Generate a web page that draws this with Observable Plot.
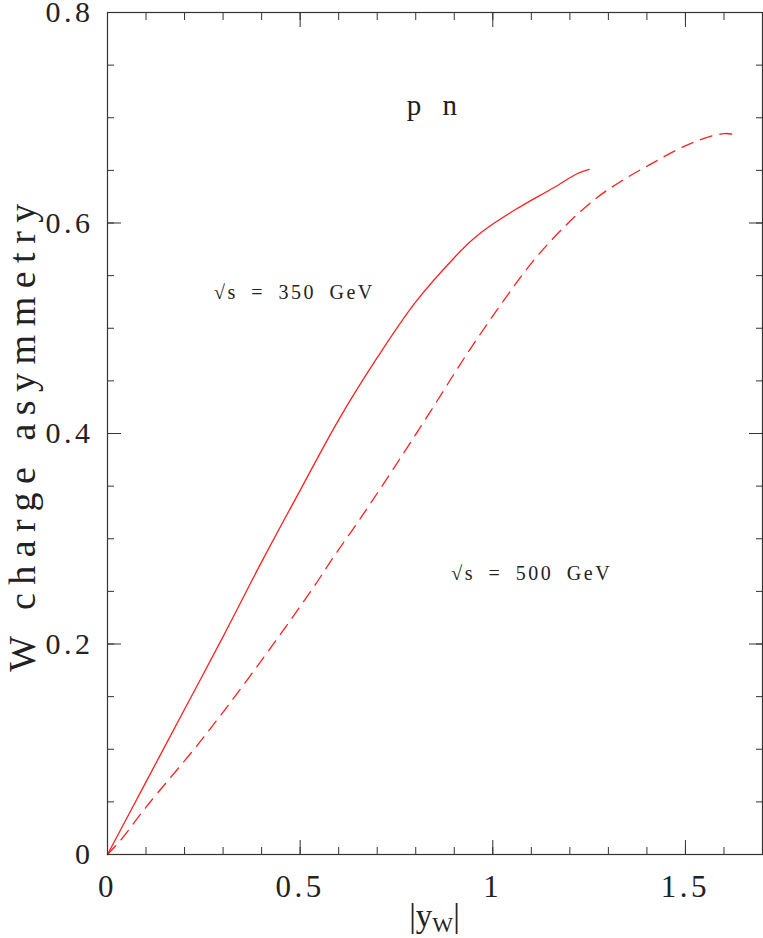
<!DOCTYPE html>
<html><head><meta charset="utf-8">
<script src="https://cdn.jsdelivr.net/npm/d3@7"></script>
<script src="https://cdn.jsdelivr.net/npm/@observablehq/plot@0.6"></script>
<style>
html,body{margin:0;padding:0;background:#fff}
svg{display:block}
</style>
</head><body><div id="chart"></div>
<script>
// sqrt(s) = 350 GeV (solid)
const x350 = [0, 0.1, 0.2, 0.3, 0.4, 0.5, 0.6, 0.7, 0.8, 0.9, 0.95, 1.0, 1.06, 1.16, 1.22, 1.25];
const y350 = [0, 0.069, 0.138, 0.207, 0.278, 0.346, 0.413, 0.472, 0.525, 0.567, 0.585, 0.599, 0.613, 0.634, 0.647, 0.651];
// sqrt(s) = 500 GeV (dashed)
const x500 = [0, 0.035, 0.1, 0.24, 0.375, 0.535, 0.58, 0.665, 0.75, 0.84, 0.93, 1.02, 1.105, 1.19, 1.27, 1.33, 1.41, 1.51, 1.6, 1.64];
const y500 = [0, 0.014, 0.045, 0.107, 0.172, 0.254, 0.279, 0.324, 0.371, 0.422, 0.474, 0.522, 0.564, 0.598, 0.624, 0.639, 0.656, 0.675, 0.685, 0.683];

const xMajorTicks = [0, 0.5, 1, 1.5];
const xTickLabels = ["0", "0.5", "1", "1.5"];
const xMinorTicks = [0, 0.1, 0.2, 0.3, 0.4, 0.5, 0.6, 0.7, 0.8, 0.9, 1, 1.1, 1.2, 1.3, 1.4, 1.5, 1.6, 1.7];
const yMajorTicks = [0, 0.2, 0.4, 0.6, 0.8];
const yTickLabels = ["0", "0.2", "0.4", "0.6", "0.8"];
const yMinorTicks = [0, 0.05, 0.1, 0.15, 0.2, 0.25, 0.3, 0.35, 0.4, 0.45, 0.5, 0.55, 0.6, 0.65, 0.7, 0.75, 0.8];

const titleText = ["p n"];
const titleX = [0.851];
const titleY = [0.711];
const energyText = ["√s = 350 GeV", "√s = 500 GeV"];
const energyX = [0.485, 1.101];
const energyY = [0.534, 0.267];

const s350 = x350.map((x, i) => ({x, y: y350[i]}));
const s500 = x500.map((x, i) => ({x, y: y500[i]}));
const titles = titleText.map((t, i) => ({t, x: titleX[i], y: titleY[i]}));
const energies = energyText.map((t, i) => ({t, x: energyX[i], y: energyY[i]}));
const xFmt = new Map(xMajorTicks.map((v, i) => [v, xTickLabels[i]]));
const yFmt = new Map(yMajorTicks.map((v, i) => [v, yTickLabels[i]]));

const ink = "#333";
const red = "#ff2020";
const font = "'Liberation Serif', 'Times New Roman', serif";

const plot = Plot.plot({
  width: 763, height: 938,
  marginLeft: 107, marginRight: 1, marginTop: 12, marginBottom: 84,
  x: {domain: [0, 1.7]},
  y: {domain: [0, 0.8]},
  style: {fontFamily: font, background: "#fff", color: ink},
  marks: [
    Plot.line(s350, {x: "x", y: "y", stroke: red, strokeWidth: 1.3, curve: "catmull-rom"}),
    Plot.line(s500, {x: "x", y: "y", stroke: red, strokeWidth: 1.3, strokeDasharray: "12,8", curve: "catmull-rom"}),
    Plot.frame({stroke: ink, strokeWidth: 1.2}),
    // inward minor ticks on all sides
    Plot.axisX({anchor: "bottom", ticks: xMinorTicks, tickSize: -7, fill: "none", label: null, stroke: ink}),
    Plot.axisX({anchor: "top", ticks: xMinorTicks, tickSize: -7, fill: "none", label: null, stroke: ink}),
    Plot.axisY({anchor: "left", ticks: yMinorTicks, tickSize: -7, fill: "none", label: null, stroke: ink}),
    Plot.axisY({anchor: "right", ticks: yMinorTicks, tickSize: -7, fill: "none", label: null, stroke: ink}),
    // inward major ticks
    Plot.axisX({anchor: "bottom", ticks: xMajorTicks, tickSize: -14, fill: "none", label: null, stroke: ink}),
    Plot.axisX({anchor: "top", ticks: xMajorTicks, tickSize: -14, fill: "none", label: null, stroke: ink}),
    Plot.axisY({anchor: "left", ticks: yMajorTicks, tickSize: -14, fill: "none", label: null, stroke: ink}),
    Plot.axisY({anchor: "right", ticks: yMajorTicks, tickSize: -14, fill: "none", label: null, stroke: ink}),
    // tick labels
    Plot.axisX({anchor: "bottom", ticks: xMajorTicks, tickSize: 0, tickPadding: 20, tickFormat: d => xFmt.get(d), fontSize: 31, label: null, fill: "#222"}),
    Plot.axisY({anchor: "left", ticks: yMajorTicks, tickSize: 0, tickPadding: 14, tickFormat: d => yFmt.get(d), fontSize: 30, label: null, fill: "#222"}),
    // annotations
    Plot.text(titles, {x: "x", y: "y", text: "t", fontSize: 29, textAnchor: "middle", lineAnchor: "middle", fill: "#222", className: "pn-title"}),
    Plot.text(energies, {x: "x", y: "y", text: "t", fontSize: 20, textAnchor: "middle", lineAnchor: "middle", fill: "#222", className: "energy"}),
    // y-axis title
    Plot.text(["W charge asymmetry"], {frameAnchor: "left", text: d => d, rotate: -90, dx: -85, fontSize: 38, textAnchor: "middle", lineAnchor: "middle", fill: "#222", className: "ytitle"})
  ]
});

const svg = d3.select(plot);
svg.selectAll('g[aria-label="x-axis tick label"] text, g[aria-label="y-axis tick label"] text').attr("letter-spacing", 3.5);
svg.selectAll('.pn-title text').attr("letter-spacing", 7);
svg.selectAll('.energy text').attr("letter-spacing", 2.5).attr("word-spacing", 6);
svg.selectAll('.ytitle text').attr("letter-spacing", 8.5);

// x-axis title with subscript
const xr = plot.scale("x").range;
const xt = svg.append("text")
  .attr("x", (xr[0] + xr[1]) / 2)
  .attr("y", 927)
  .attr("text-anchor", "middle")
  .attr("font-family", font)
  .attr("font-size", 33)
  .attr("fill", "#222");
xt.append("tspan").text("|y");
xt.append("tspan").attr("font-size", 22).attr("dy", 5).text("W");
xt.append("tspan").attr("dy", -5).text("|");

document.getElementById("chart").appendChild(plot);
</script>
</body></html>
